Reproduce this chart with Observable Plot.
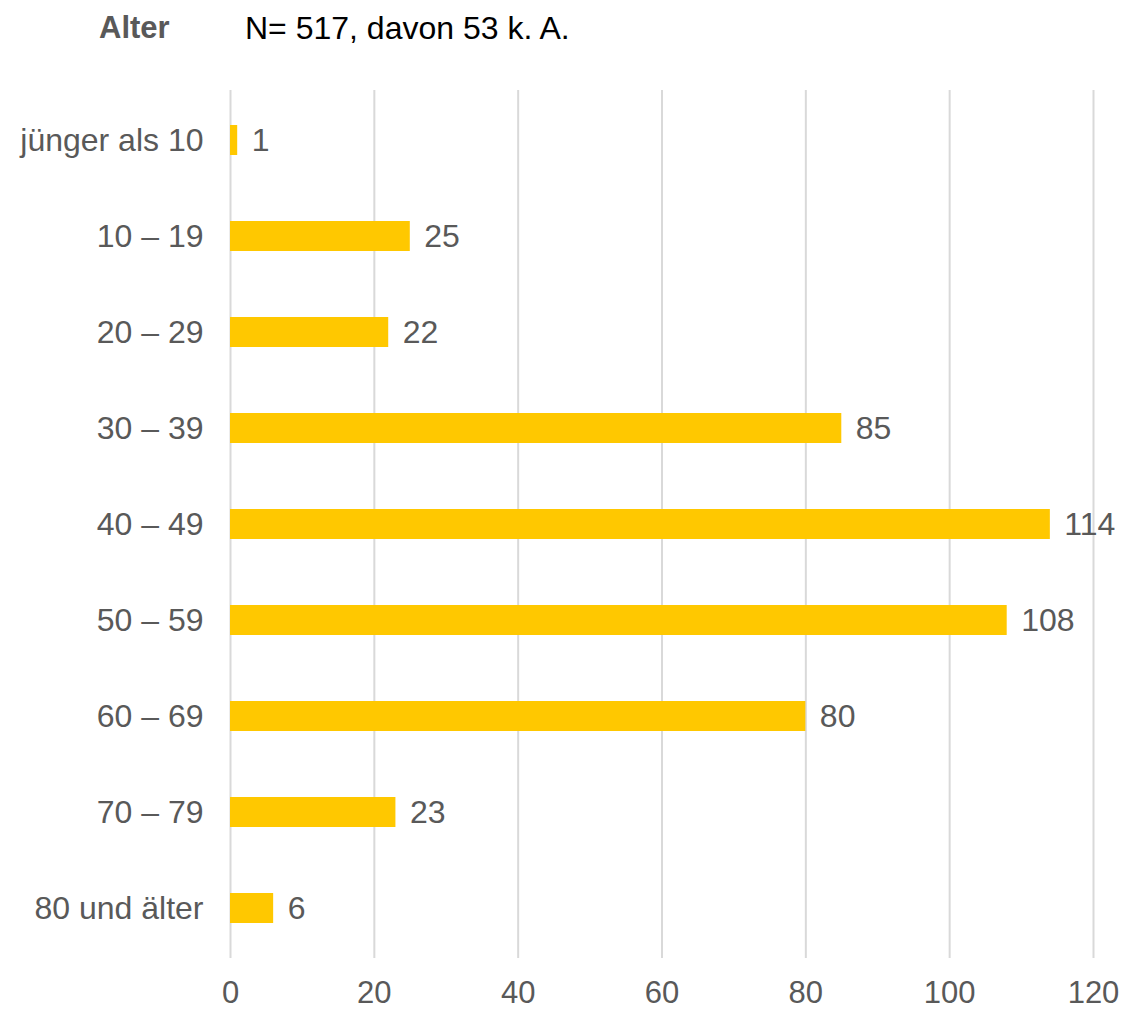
<!DOCTYPE html>
<html>
<head>
<meta charset="utf-8">
<script src="https://cdn.jsdelivr.net/npm/d3@7"></script>
<script src="https://cdn.jsdelivr.net/npm/@observablehq/plot@0.6"></script>
<style>
  html, body { margin: 0; padding: 0; background: #fff; overflow: hidden; }
  body { width: 1124px; height: 1011px; position: relative; font-family: "Liberation Sans", Arial, sans-serif; }
  #title { position: absolute; left: 99px; top: 10px; font-size: 31px; font-weight: bold; color: #595959; }
  #subtitle { position: absolute; left: 245px; top: 10px; font-size: 32px; color: #000; }
  #chart { position: absolute; left: 0; top: 50px; }
  #chart svg { overflow: visible; }
</style>
</head>
<body>
<div id="title">Alter</div>
<div id="subtitle">N= 517, davon 53 k. A.</div>
<div id="chart"></div>
<script>
const categories = ["jünger als 10", "10 – 19", "20 – 29", "30 – 39", "40 – 49", "50 – 59", "60 – 69", "70 – 79", "80 und älter"];
const values = [1, 25, 22, 85, 114, 108, 80, 23, 6];
const xTicks = [0, 20, 40, 60, 80, 100, 120];

const data = categories.map((c, i) => ({category: c, value: values[i]}));

const chart = Plot.plot({
  width: 1124,
  height: 961,
  marginLeft: 230,
  marginRight: 31,
  marginTop: 40,
  marginBottom: 53,
  style: {fontFamily: "'Liberation Sans', Arial, sans-serif", fontSize: "32px", color: "#595959", background: "white", overflow: "visible"},
  x: {domain: [0, 120], ticks: xTicks},
  y: {domain: categories, paddingInner: 0.69, paddingOuter: 0.345},
  marks: [
    Plot.gridX(xTicks, {stroke: "#d9d9d9", strokeOpacity: 1, strokeWidth: 2}),
    Plot.barX(data, {x: "value", y: "category", fill: "#FFC800"}),
    Plot.text(data, {x: "value", y: "category", text: d => String(d.value), textAnchor: "start", dx: 14, fill: "#595959", fontSize: 32}),
    Plot.axisX({ticks: xTicks, tickSize: 0, tickPadding: 22, fontSize: 31, fill: "#595959", label: null}),
    Plot.axisY({tickSize: 0, tickPadding: 27, fontSize: 32, fill: "#595959", label: null})
  ]
});
document.getElementById("chart").appendChild(chart);
</script>
</body>
</html>
